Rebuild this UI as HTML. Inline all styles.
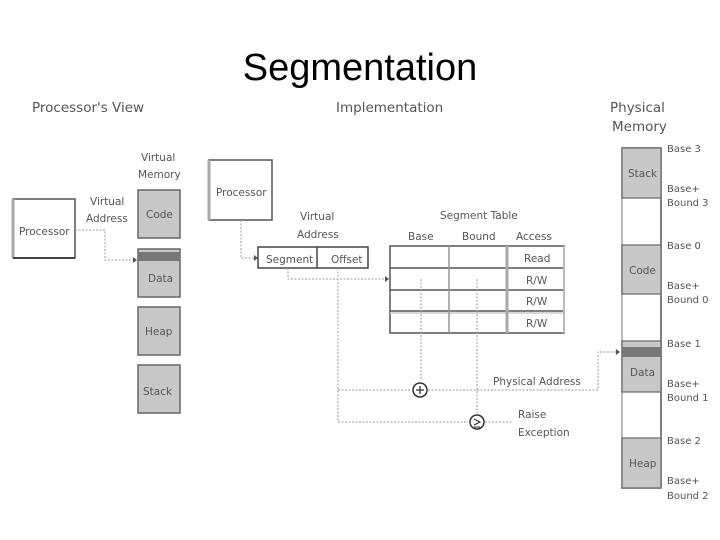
<!DOCTYPE html>
<html><head><meta charset="utf-8"><style>
html,body{margin:0;padding:0;background:#fff;}
svg{display:block}
text{font-family:"DejaVu Sans","Liberation Sans",sans-serif;fill:#555;}
</style></head><body>
<svg width="720" height="540" viewBox="0 0 720 540" xmlns="http://www.w3.org/2000/svg">
<text x="360" y="80" text-anchor="middle" style="font-family:'Liberation Sans',sans-serif;fill:#000" font-size="38">Segmentation</text>
<text x="32" y="112" font-size="13.5" fill="#555">Processor's View</text>
<text x="336" y="112" font-size="13.5">Implementation</text>
<text x="610" y="112" font-size="13.5">Physical</text>
<text x="612" y="131" font-size="13.5">Memory</text>

<g font-size="10.5">
<!-- left -->
<rect x="13" y="199" width="62" height="59" fill="#fff" stroke="#555" stroke-width="1.5"/>
<line x1="13" y1="199" x2="13" y2="258" stroke="#aaa" stroke-width="3"/>
<line x1="13" y1="258" x2="75" y2="258" stroke="#444" stroke-width="2"/>
<text x="19" y="235">Processor</text>
<text x="90" y="205">Virtual</text>
<text x="86" y="222">Address</text>
<text x="141" y="161">Virtual</text>
<text x="138" y="178">Memory</text>
<path d="M75 230 H105 V260 H134" fill="none" stroke="#999" stroke-width="1" stroke-dasharray="2,1.5"/>
<path d="M133 257 l4 3 -4 3z" fill="#555"/>
<rect x="138" y="190" width="42" height="48" fill="#c8c8c8" stroke="#666" stroke-width="1.5"/>
<text x="146" y="218">Code</text>
<rect x="138" y="249" width="42" height="48" fill="#c8c8c8" stroke="#666" stroke-width="1.5"/>
<rect x="138" y="252" width="42" height="9" fill="#777"/>
<text x="148" y="282">Data</text>
<rect x="138" y="307" width="42" height="48" fill="#c8c8c8" stroke="#666" stroke-width="1.5"/>
<text x="145" y="335">Heap</text>
<rect x="138" y="365" width="42" height="48" fill="#c8c8c8" stroke="#666" stroke-width="1.5"/>
<text x="143" y="395">Stack</text>

<!-- middle -->
<rect x="209" y="160" width="63" height="60" fill="#fff" stroke="#555" stroke-width="1.5"/>
<line x1="209" y1="160" x2="209" y2="220" stroke="#aaa" stroke-width="3"/>
<text x="216" y="196">Processor</text>
<text x="300" y="220">Virtual</text>
<text x="297" y="238">Address</text>
<path d="M241 220 V258 H255" fill="none" stroke="#999" stroke-dasharray="2,1.5"/>
<path d="M254 255 l4 3 -4 3z" fill="#555"/>
<rect x="258" y="247" width="110" height="21" fill="#fff" stroke="#444" stroke-width="1.5"/>
<line x1="317" y1="247" x2="317" y2="268" stroke="#444" stroke-width="1.5"/>
<text x="266" y="263">Segment</text>
<text x="331" y="263">Offset</text>

<text x="440" y="219">Segment Table</text>
<text x="408" y="240">Base</text>
<text x="462" y="240">Bound</text>
<text x="516" y="240">Access</text>
<rect x="390" y="246" width="174" height="87" fill="#fff" stroke="#555" stroke-width="1.5"/>
<line x1="390" y1="268" x2="564" y2="268" stroke="#555" stroke-width="1.5"/>
<line x1="390" y1="290" x2="564" y2="290" stroke="#555" stroke-width="1.5"/>
<line x1="390" y1="311" x2="564" y2="311" stroke="#555" stroke-width="1.5"/>
<line x1="390" y1="313" x2="564" y2="313" stroke="#ccc" stroke-width="1.5"/>
<line x1="449" y1="246" x2="449" y2="333" stroke="#999" stroke-width="1.5"/>
<line x1="507" y1="246" x2="507" y2="333" stroke="#aaa" stroke-width="3"/>
<line x1="564" y1="246" x2="564" y2="333" stroke="#bbb" stroke-width="2"/>
<text x="524" y="262">Read</text>
<text x="526" y="284">R/W</text>
<text x="526" y="305">R/W</text>
<text x="526" y="327">R/W</text>

<g fill="none" stroke="#999" stroke-dasharray="2,1.5">
<path d="M288 268 V279 H386"/>
<path d="M338 268 V422 H468"/>
<path d="M338 390 H411"/>
<path d="M421 279 V381"/>
<path d="M477 279 V413"/>
<path d="M428 390 H598 V352 H617"/>
<path d="M485 422 H512"/>
</g>
<path d="M385 276 l4 3 -4 3z" fill="#555"/>
<path d="M616 349 l4 3 -4 3z" fill="#555"/>
<circle cx="420" cy="390" r="7" fill="#fff" stroke="#333" stroke-width="1.5"/>
<path d="M416 390 H424 M420 386 V394" stroke="#333" stroke-width="1.3"/>
<circle cx="477" cy="422" r="7" fill="#fff" stroke="#333" stroke-width="1.5"/>
<path d="M474 419 L480 422 L474 425 M474 427 H480" fill="none" stroke="#333" stroke-width="1.1"/>
<text x="493" y="385">Physical Address</text>
<text x="518" y="418">Raise</text>
<text x="518" y="436">Exception</text>

<!-- physical memory -->
<rect x="622" y="148" width="39" height="340" fill="#fff" stroke="#555" stroke-width="1.5"/>
<line x1="622" y1="148" x2="622" y2="488" stroke="#bbb" stroke-width="2"/>
<rect x="622" y="148" width="39" height="50" fill="#c8c8c8" stroke="#666" stroke-width="1.2"/>
<text x="628" y="177">Stack</text>
<rect x="622" y="245" width="39" height="49" fill="#c8c8c8" stroke="#666" stroke-width="1.2"/>
<text x="629" y="274">Code</text>
<rect x="622" y="341" width="39" height="51" fill="#c8c8c8" stroke="#666" stroke-width="1.2"/>
<rect x="622" y="347" width="39" height="10" fill="#777"/>
<text x="630" y="376">Data</text>
<rect x="622" y="438" width="39" height="50" fill="#c8c8c8" stroke="#666" stroke-width="1.2"/>
<text x="629" y="467">Heap</text>
<g font-size="10">
<text x="667" y="152">Base 3</text>
<text x="667" y="192">Base+</text>
<text x="667" y="206">Bound 3</text>
<text x="667" y="249">Base 0</text>
<text x="667" y="289">Base+</text>
<text x="667" y="303">Bound 0</text>
<text x="667" y="347">Base 1</text>
<text x="667" y="387">Base+</text>
<text x="667" y="401">Bound 1</text>
<text x="667" y="444">Base 2</text>
<text x="667" y="484">Base+</text>
<text x="667" y="499">Bound 2</text>
</g>
</g>
</svg>
</body></html>
